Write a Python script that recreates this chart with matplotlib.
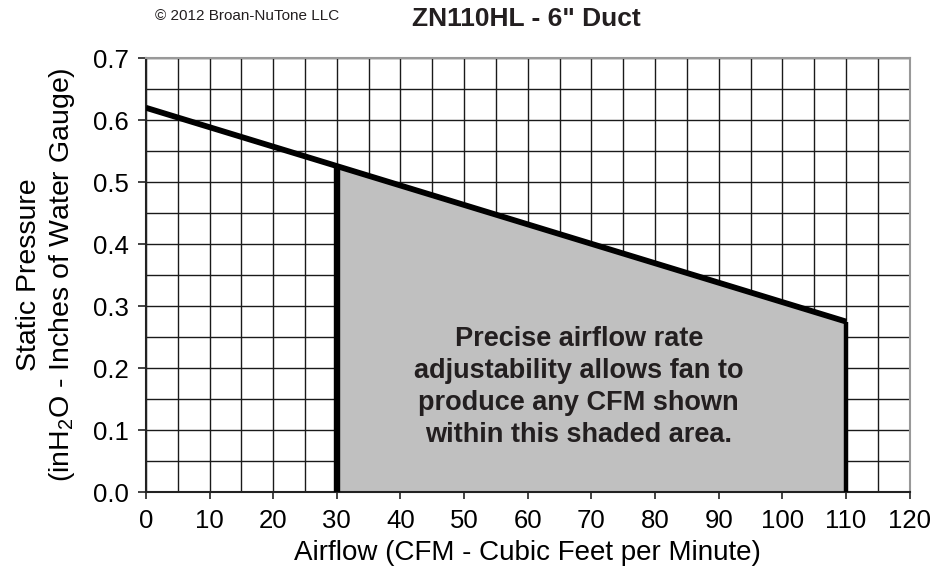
import matplotlib
matplotlib.use("Agg")
import matplotlib.pyplot as plt
import numpy as np

plt.rcParams['font.family'] = ['Liberation Sans', 'DejaVu Sans']
plt.rcParams['mathtext.fontset'] = 'custom'
plt.rcParams['mathtext.rm'] = 'Liberation Sans'

# Data
curve_cfm = [0, 110]
curve_sp = [0.62, 0.275]
shade_cfm = [30, 110]
x_ticks = [0, 10, 20, 30, 40, 50, 60, 70, 80, 90, 100, 110, 120]
y_ticks = [0.0, 0.1, 0.2, 0.3, 0.4, 0.5, 0.6, 0.7]

fig = plt.figure(figsize=(9.35, 5.8), dpi=100)
ax = fig.add_axes([0.156, 0.1517, 0.817, 0.748])
ax.set_xlim(0, 120)
ax.set_ylim(0, 0.7)

# grid
ax.set_xticks(np.arange(0, 121, 5), minor=True)
ax.set_yticks(np.arange(0, 0.701, 0.05), minor=True)
ax.grid(which='both', color='#1a1a1a', linewidth=1.0, zorder=0)
ax.set_axisbelow(True)

def sp_at(x):
    return np.interp(x, curve_cfm, curve_sp)

xs = np.linspace(shade_cfm[0], shade_cfm[1], 50)
ax.fill_between(xs, 0, sp_at(xs), color='#c0c0c0', zorder=2, linewidth=0)
ax.plot(curve_cfm, curve_sp, color='black', linewidth=4.2, zorder=4, solid_capstyle='butt')
for xv, lw in zip(shade_cfm, [4.6, 3.2]):
    ax.plot([xv, xv], [0, sp_at(xv)], color='black', linewidth=lw, zorder=4,
            solid_capstyle='butt')

ax.set_xticks(x_ticks)
ax.set_yticks(y_ticks)
ax.set_xticklabels([str(v) for v in x_ticks])
ax.set_yticklabels([f"{v:.1f}" for v in y_ticks])
ax.tick_params(which='major', direction='out', width=1.2, labelsize=18.5, colors='#222222',
               labelcolor='black')
ax.tick_params(axis='y', length=6, pad=6)
ax.tick_params(axis='x', length=5, pad=7)
ax.tick_params(which='minor', length=0)

for s in ['left', 'bottom']:
    ax.spines[s].set_color('#222222')
    ax.spines[s].set_linewidth(1.5)
for s in ['top', 'right']:
    ax.spines[s].set_color('#999999')
    ax.spines[s].set_linewidth(1.5)

ax.set_xlabel("Airflow (CFM - Cubic Feet per Minute)", fontsize=20, labelpad=5)
ax.set_ylabel("Static Pressure\n(inH$\\mathregular{_2}$O - Inches of Water Gauge)", fontsize=20.5,
              labelpad=12, linespacing=1.2)

ax.text(68, 0.169, "Precise airflow rate\nadjustability allows fan to\nproduce any CFM shown\nwithin this shaded area.",
        ha='center', va='center', fontsize=19.5, fontweight='bold', color='#231f20', linespacing=1.3,
        zorder=5)

fig.text(526/935, 1 - 19/580, 'ZN110HL - 6" Duct', ha='center', va='center', fontsize=19,
         fontweight='bold', color='#231f20')
fig.text(247/935, 1 - 16/580, '© 2012 Broan-NuTone LLC', ha='center', va='center', fontsize=11,
         color='#231f20')

fig.savefig('out.png', dpi=100)
